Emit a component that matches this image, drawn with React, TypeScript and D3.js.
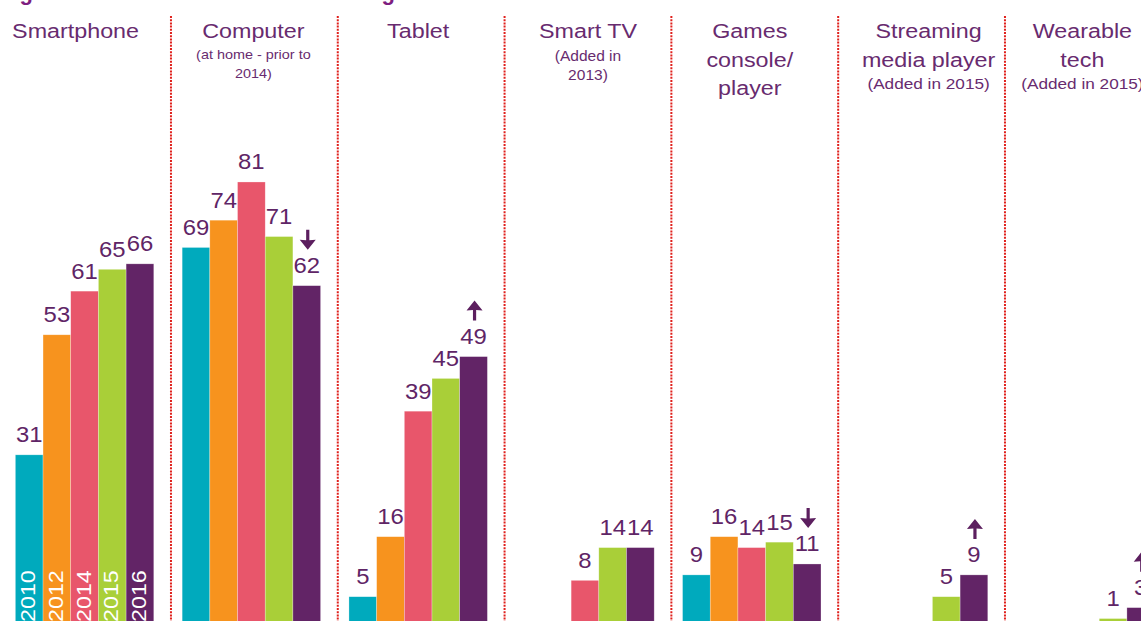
import React from "react";
import * as d3 from "d3";

// ---------- data ----------
const categories = [
  "Smartphone",
  "Computer",
  "Tablet",
  "Smart TV",
  "Games console/player",
  "Streaming media player",
  "Wearable tech",
];
const titleLines: string[][] = [
  ["Smartphone"],
  ["Computer"],
  ["Tablet"],
  ["Smart TV"],
  ["Games", "console/", "player"],
  ["Streaming", "media player"],
  ["Wearable", "tech"],
];
const subtitleLines: string[][] = [
  [],
  ["(at home - prior to", "2014)"],
  [],
  ["(Added in", "2013)"],
  [],
  ["(Added in 2015)"],
  ["(Added in 2015)"],
];
const years = ["2010", "2012", "2014", "2015", "2016"];
const smartphone = [31, 53, 61, 65, 66];
const computer = [69, 74, 81, 71, 62];
const tablet = [5, 16, 39, 45, 49];
const smartTV = [null, null, 8, 14, 14];
const games = [9, 16, 14, 15, 11];
const streaming = [null, null, null, 5, 9];
const wearable = [null, null, null, 1, 3];
const seriesByCategory: (number | null)[][] = [
  smartphone,
  computer,
  tablet,
  smartTV,
  games,
  streaming,
  wearable,
];
const trends: (string | null)[] = [null, "down", "up", null, "down", "up", "up"];
const chartTitle = "Figure 3.1: Devices used at home to go online";

// ---------- layout / style ----------
const W = 1141;
const H = 621;
const colors = ["#00aabd", "#f7931e", "#e8566b", "#a9cf38", "#622466"];
const TITLE_COLOR = "#682b6f";
const NUM_COLOR = "#5f2566";
const DIV_COLOR = "#e0201c";
const SX = 1.11;
const FONT = "'Liberation Sans', Arial, sans-serif";
const TITLE_DX = [-9, 2, 0, 3, -2, 10, -3];
const SUB_SIZE = [0, 13, 0, 14, 0, 15.5, 15.5];
const SUB_BASE = [0, 59, 0, 61, 0, 89, 89];

const step = 166.8;
const x0 = 15.35;
const padInner = 0.17;

const x = d3
  .scaleBand<string>()
  .domain(categories)
  .range([x0, x0 + step * (categories.length - padInner)])
  .paddingInner(padInner)
  .paddingOuter(0);
const xi = d3.scaleBand<string>().domain(years).range([0, x.bandwidth()]).padding(0);
const y = d3.scaleLinear().domain([0, 100]).range([624, 624 - 545.7]);

function T({
  x: tx,
  y: ty,
  size,
  fill,
  anchor = "middle",
  children,
  weight,
}: {
  x: number;
  y: number;
  size: number;
  fill: string;
  anchor?: string;
  children: React.ReactNode;
  weight?: string;
}) {
  return (
    <text
      transform={`translate(${tx},${ty}) scale(${SX},1)`}
      fontSize={size}
      fill={fill}
      textAnchor={anchor as any}
      fontFamily={FONT}
      fontWeight={weight}
    >
      {children}
    </text>
  );
}

function Arrow({ cx, bottom, dir }: { cx: number; bottom: number; dir: string }) {
  const top = bottom - 20;
  const hw = 8;
  const hh = 10;
  let p: string;
  if (dir === "up") {
    p = `M${cx - 1.6},${bottom} L${cx - 1.6},${top + hh - 0.5} L${cx - hw},${top + hh} L${cx},${top} L${cx + hw},${top + hh} L${cx + 1.6},${top + hh - 0.5} L${cx + 1.6},${bottom} Z`;
  } else {
    p = `M${cx - 1.6},${top} L${cx - 1.6},${bottom - hh + 0.5} L${cx - hw},${bottom - hh} L${cx},${bottom} L${cx + hw},${bottom - hh} L${cx + 1.6},${bottom - hh + 0.5} L${cx + 1.6},${top} Z`;
  }
  return <path d={p} fill="#5c1f5f" />;
}

export default function App() {
  const bw = xi.bandwidth();
  const dividers = categories.slice(1).map((c) => (x(c) as number) - (x.step() - x.bandwidth()) / 2 + 3);
  return (
    <svg
      width={W}
      height={H}
      style={{ position: "absolute", left: 0, top: 0, background: "#fff" }}
      fontFamily={FONT}
    >
      <rect width={W} height={H} fill="#fff" />
      {/* cut-off chart title */}
      <text x={0} y={0} fontSize={22} fontWeight="bold" fill="#7e1e80" fontFamily={FONT}>
        {chartTitle}
      </text>

      {/* dividers */}
      {dividers.map((dx, i) => (
        <line
          key={"d" + i}
          x1={dx}
          x2={dx}
          y1={16}
          y2={H}
          stroke={DIV_COLOR}
          strokeWidth={2}
          strokeDasharray="2 1.2"
        />
      ))}

      {categories.map((cat, ci) => {
        const gx = x(cat) as number;
        const cx = gx + x.bandwidth() / 2 + TITLE_DX[ci];
        const vals = seriesByCategory[ci];
        return (
          <g key={cat}>
            {titleLines[ci].map((ln, li) => (
              <T key={"t" + li} x={cx} y={38 + li * 28.5} size={21} fill={TITLE_COLOR}>
                {ln}
              </T>
            ))}
            {subtitleLines[ci].map((ln, li) => (
              <T
                key={"s" + li}
                x={cx}
                y={SUB_BASE[ci] + li * 18.5}
                size={SUB_SIZE[ci]}
                fill={TITLE_COLOR}
              >
                {ln}
              </T>
            ))}
            {vals.map((v, vi) => {
              if (v === null) return null;
              const bx = gx + (xi(years[vi]) as number);
              const top = y(v);
              return (
                <g key={vi}>
                  <rect
                    x={bx}
                    y={top}
                    width={bw}
                    height={y(0) - top}
                    fill={colors[vi]}
                    stroke="#ffffff"
                    strokeOpacity={0.45}
                    strokeWidth={0.6}
                  />
                  <T x={bx + bw / 2} y={top - 12.5} size={21.5} fill={NUM_COLOR}>
                    {v}
                  </T>
                </g>
              );
            })}
            {trends[ci] && (
              <Arrow
                cx={gx + (xi(years[4]) as number) + bw / 2 + 1}
                bottom={y(vals[4] as number) - 36}
                dir={trends[ci] as string}
              />
            )}
          </g>
        );
      })}

      {/* year labels inside first group's bars */}
      {years.map((yr, vi) => {
        const bx = (x(categories[0]) as number) + (xi(yr) as number);
        return (
          <text
            key={yr}
            transform={`translate(${bx + bw / 2 + 6},${622}) rotate(-90) scale(${SX},1)`}
            fontSize={21}
            fill="#ffffff"
            fontFamily={FONT}
          >
            {yr}
          </text>
        );
      })}
    </svg>
  );
}
